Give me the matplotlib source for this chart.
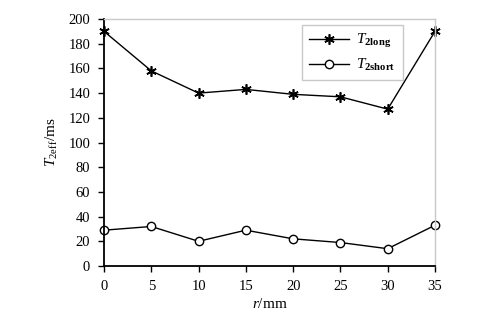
import matplotlib
matplotlib.use("Agg")
import matplotlib.pyplot as plt

r_mm = [0, 5, 10, 15, 20, 25, 30, 35]
t2_long = [190, 158, 140, 143, 139, 137, 127, 190]
t2_short = [29, 32, 20, 29, 22, 19, 14, 33]

plt.rcParams["font.family"] = ["Liberation Serif", "DejaVu Serif"]
plt.rcParams["mathtext.fontset"] = "custom"
plt.rcParams["mathtext.it"] = "Liberation Serif:italic"
plt.rcParams["mathtext.rm"] = "Liberation Serif"
plt.rcParams["mathtext.bf"] = "Liberation Serif:bold"

fig = plt.figure(figsize=(4.9, 3.16), dpi=100)
ax = fig.add_axes([104 / 490, 50 / 316, 331 / 490, 247 / 316])

ax.plot(r_mm, t2_long, color="black", lw=1, marker=(6, 2, 0), ms=7.5,
        mew=1.2, label=r"$T_{\mathbf{2long}}$", clip_on=False)
ax.plot(r_mm, t2_short, color="black", lw=1, marker="o", ms=6,
        mfc="white", mew=1, label=r"$T_{\mathbf{2short}}$", clip_on=False)

ax.set_xlim(0, 35)
ax.set_ylim(0, 200)
ax.set_xticks(range(0, 36, 5))
ax.set_yticks(range(0, 201, 20))
ax.tick_params(direction="out", length=4, width=1, labelsize=10.5, pad=6)
ax.spines["left"].set_linewidth(1.3)
ax.spines["bottom"].set_linewidth(1.3)
for s in ("top", "right"):
    ax.spines[s].set_color("#c8c8c8")
    ax.spines[s].set_linewidth(1)

ax.set_xlabel(r"$r$/mm", fontsize=11, labelpad=3)
ax.set_ylabel(r"$T_{\mathrm{2eff}}$/ms", fontsize=11, labelpad=6)

leg = ax.legend(loc="upper right", bbox_to_anchor=(0.925, 1.005), fontsize=11,
                fancybox=False, framealpha=1, handlelength=2.6,
                borderpad=0.45, labelspacing=0.45, handletextpad=0.5)
leg.get_frame().set_edgecolor("#c8c8c8")
leg.get_frame().set_linewidth(1)

fig.savefig("out.png", dpi=100)
